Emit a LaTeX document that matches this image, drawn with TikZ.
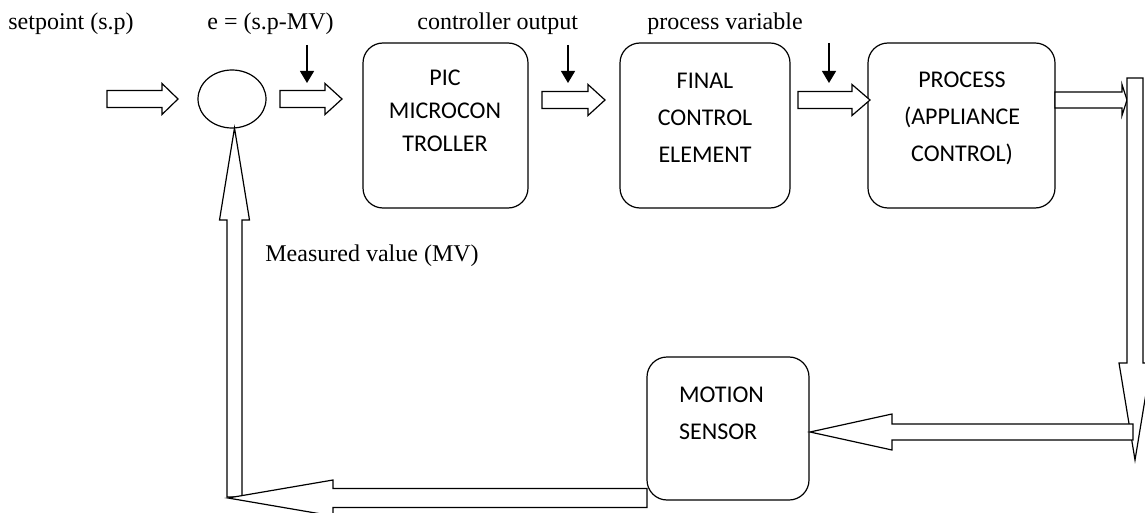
\documentclass[tikz,border=0pt]{standalone}
\usepackage{fontspec}
\setmainfont{Liberation Serif}
\newfontfamily\blockfont{Carlito}
\usetikzlibrary{calc,arrows.meta,shapes.geometric}

\tikzset{
  fatline/.style={draw=black, line width=.6pt, fill=white, line join=miter},
  block/.style={draw, line width=.6pt, rounded corners=10pt, inner sep=0pt},
  blocktext/.style={font=\blockfont\fontsize{12pt}{18.5pt}\selectfont, align=center},
  tag/.style={font=\fontsize{12pt}{14pt}\selectfont, anchor=base west, inner sep=0pt},
  pointer/.style={line width=.6pt, -{Triangle[length=6pt,width=7pt]}}
}

% hollow arrow: from, to, shaft half width, head half width, head length
\newcommand{\fatarrow}[5]{%
  \coordinate (fa-b) at ($(#2)!#5!(#1)$);
  \draw [fatline] ($(#1)!#3!90:(#2)$) -- ($(fa-b)!#3!90:(#2)$)
    -- ($(fa-b)!#4!90:(#2)$) -- (#2) -- ($(fa-b)!#4!-90:(#2)$)
    -- ($(fa-b)!#3!-90:(#2)$) -- ($(#1)!#3!-90:(#2)$) -- cycle;
}

\begin{document}
\begin{tikzpicture}[x=.5pt,y=-.5pt]
\useasboundingbox (0,0) rectangle (1145,513);
% labels
\node [tag] (sp) at (8,30) {setpoint (s.p)};
\node [tag] (err) at (207,30) {e = (s.p-MV)};
\node [tag] (co) at (417,30) {controller output};
\node [tag] (pv) at (647,30) {process variable};
\node [tag] (mv) at (265,262) {Measured value (MV)};
% summing point and blocks
\node [draw, ellipse, line width=.6pt, minimum width=34pt, minimum height=29pt, inner sep=0pt] (sum) at (232,99) {};
\node [block, minimum width=82.5pt, minimum height=82.5pt] (pic) at (445.5,125.5) {};
\node [block, minimum width=85pt, minimum height=82.5pt] (fce) at (705,125.5) {};
\node [block, minimum width=93.5pt, minimum height=82.5pt] (proc) at (961.5,125.5) {};
\node [block, minimum width=81pt, minimum height=71.5pt] (sensor) at (728,428.5) {};
\node [blocktext, font=\blockfont\fontsize{12pt}{16.5pt}\selectfont] (pictext) at (445,111) {PIC\\MICROCON\\TROLLER};
\node [blocktext] (fcetext) at (705,118) {FINAL\\CONTROL\\ELEMENT};
\node [blocktext] (proctext) at (962,118) {PROCESS\\(APPLIANCE\\CONTROL)};
\node [blocktext, align=left, anchor=west] (sensortext) at (672,413) {MOTION\\SENSOR};
% arrow ends
\coordinate (in1) at (107,99);   \coordinate (in2) at (178,99);
\coordinate (e1) at (280,99);    \coordinate (e2) at (342,99);
\coordinate (c1) at (542,100);   \coordinate (c2) at (605,100);
\coordinate (p1) at (798,100);   \coordinate (p2) at (870,100);
\coordinate (o1) at (1055,100);  \coordinate (o2) at (1127,100);
\coordinate (d1) at (1135,78);   \coordinate (d2) at (1135,460);
\coordinate (s1) at (1133,432);  \coordinate (s2) at (810,432);
\coordinate (b1) at (647,498);   \coordinate (b2) at (228,498);
\coordinate (u1) at (234.5,497); \coordinate (u2) at (234.5,128);
% forward path
\fatarrow{in1}{in2}{4.25pt}{7.75pt}{8pt}
\fatarrow{e1}{e2}{4.25pt}{7.75pt}{8.5pt}
\fatarrow{c1}{c2}{4.25pt}{7.75pt}{8.5pt}
\fatarrow{p1}{p2}{4.25pt}{7.75pt}{9pt}
\fatarrow{o1}{o2}{4pt}{7.75pt}{2.5pt}
% feedback path
\fatarrow{d1}{d2}{4pt}{8pt}{48.5pt}
\fatarrow{s1}{s2}{4pt}{9pt}{41pt}
\fatarrow{u1}{u2}{3.75pt}{7.5pt}{46pt}
\fatarrow{b1}{b2}{4.75pt}{9pt}{52.5pt}
% signal pointers
\coordinate (t1) at (307,45); \coordinate (t2) at (307,83);
\coordinate (t3) at (568,45); \coordinate (t4) at (568,83);
\coordinate (t5) at (829,43); \coordinate (t6) at (829,83);
\draw [pointer] (t1) -- (t2);
\draw [pointer] (t3) -- (t4);
\draw [pointer] (t5) -- (t6);
\end{tikzpicture}
\end{document}
